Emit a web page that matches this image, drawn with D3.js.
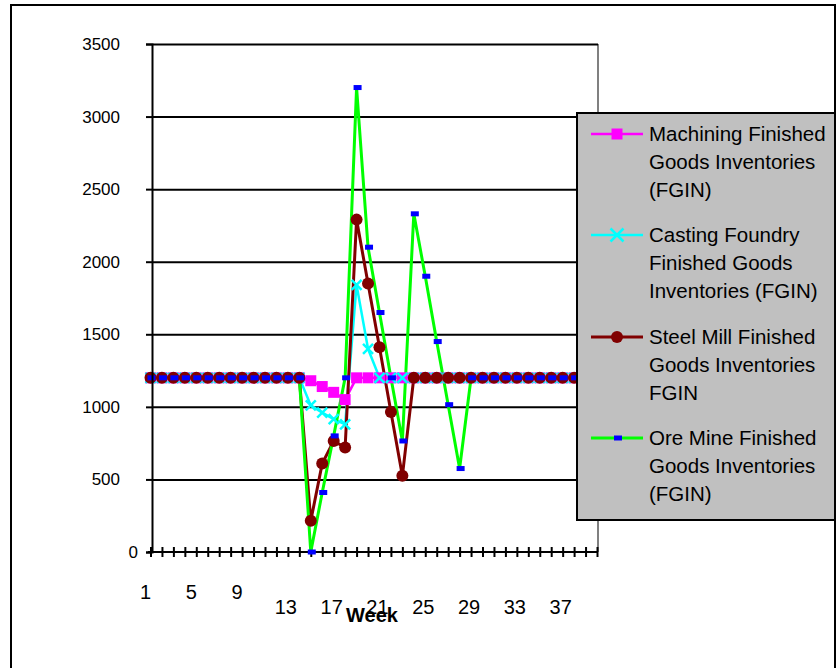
<!DOCTYPE html>
<html>
<head>
<meta charset="utf-8">
<script src="https://cdn.jsdelivr.net/npm/d3@7"></script>
<style>
  html, body { margin: 0; padding: 0; background: #fff; }
  svg { display: block; font-family: "Liberation Sans", Arial, sans-serif; }
</style>
</head>
<body>
<svg id="chart" width="838" height="668"></svg>
<script>
// ---------- DATA ----------
const weeks = [1,2,3,4,5,6,7,8,9,10,11,12,13,14,15,16,17,18,19,20,
               21,22,23,24,25,26,27,28,29,30,31,32,33,34,35,36,37,38,39,40];
const weekLabels = [1,5,9,13,17,21,25,29,33,37];
const yTickValues = [0,500,1000,1500,2000,2500,3000,3500];

const machining = [1200,1200,1200,1200,1200,1200,1200,1200,1200,1200,1200,1200,1200,1200,
                   1180,1140,1100,1050,1200,1200,1200,1200,1200,1200,1200,1200,1200,1200,
                   1200,1200,1200,1200,1200,1200,1200,1200,1200,1200,1200,1200];
const casting   = [1200,1200,1200,1200,1200,1200,1200,1200,1200,1200,1200,1200,1200,1200,
                   1010,960,915,880,1840,1400,1200,1200,1200,1200,1200,1200,1200,1200,
                   1200,1200,1200,1200,1200,1200,1200,1200,1200,1200,1200,1200];
const steel     = [1200,1200,1200,1200,1200,1200,1200,1200,1200,1200,1200,1200,1200,1200,
                   215,610,765,720,2290,1850,1410,965,525,1200,1200,1200,1200,1200,
                   1200,1200,1200,1200,1200,1200,1200,1200,1200,1200,1200,1200];
const oreMine   = [1200,1200,1200,1200,1200,1200,1200,1200,1200,1200,1200,1200,1200,1200,
                   0,410,800,1200,3200,2100,1650,1200,765,2330,1900,1450,1015,575,
                   1200,1200,1200,1200,1200,1200,1200,1200,1200,1200,1200,1200];

const seriesNames = [
  ["Machining Finished", "Goods Inventories", "(FGIN)"],
  ["Casting Foundry", "Finished Goods", "Inventories (FGIN)"],
  ["Steel Mill Finished", "Goods Inventories", "FGIN"],
  ["Ore Mine Finished", "Goods Inventories", "(FGIN)"]
];
const xTitle = "Week";

// ---------- SETUP ----------
const svg = d3.select("#chart");
const plot = { left: 152, right: 598, top: 44, bottom: 552 };

const x = d3.scalePoint().domain(weeks).range([150.5, 597]);
const y = d3.scaleLinear().domain([0, 3500]).range([plot.bottom, plot.top]);

const series = [
  { values: machining, color: "#FF00FF", width: 2.5, marker: "square" },
  { values: casting,   color: "#00FFFF", width: 2.5, marker: "x" },
  { values: steel,     color: "#800000", width: 3,   marker: "circle" },
  { values: oreMine,   color: "#00FF00", width: 3,   marker: "rect" }
];

// outer chart border
svg.append("rect").attr("x", 11).attr("y", 5).attr("width", 824).attr("height", 720)
  .attr("fill", "#fff").attr("stroke", "#000").attr("stroke-width", 2);

// plot area right border (grey)
svg.append("line").attr("x1", plot.right).attr("x2", plot.right)
  .attr("y1", plot.top).attr("y2", plot.bottom)
  .attr("stroke", "#808080").attr("stroke-width", 2);

// gridlines
svg.append("g").attr("transform", `translate(${plot.left},0)`)
  .call(d3.axisLeft(y).tickValues(yTickValues.filter(v => v > 0))
        .tickSize(-(plot.right - plot.left)).tickFormat(""))
  .call(g => g.select(".domain").remove())
  .call(g => g.selectAll("line").attr("stroke", "#000").attr("stroke-width", 2));

// x axis line + crossing ticks
svg.append("line").attr("x1", plot.left - 4).attr("x2", plot.right)
  .attr("y1", plot.bottom).attr("y2", plot.bottom)
  .attr("stroke", "#000").attr("stroke-width", 2);
svg.append("g").attr("transform", `translate(0,${plot.bottom - 5})`)
  .call(d3.axisBottom(x).tickSize(10).tickFormat(""))
  .call(g => g.select(".domain").remove())
  .call(g => g.selectAll("line").attr("stroke", "#000").attr("stroke-width", 2));

// x tick labels (staggered as in the original)
svg.append("g").selectAll("text").data(weekLabels).join("text")
  .attr("x", d => x(d) + (d <= 9 ? -5 : -2))
  .attr("y", d => d <= 9 ? 599 : 614)
  .attr("text-anchor", "middle")
  .attr("font-size", 20)
  .attr("fill", "#000")
  .text(d => d);

// x title
svg.append("text").attr("x", 372).attr("y", 622)
  .attr("text-anchor", "middle").attr("font-size", 20).attr("font-weight", "bold")
  .text(xTitle);

// ---------- SERIES ----------
const lineGen = d3.line().x((d, i) => x(weeks[i])).y(d => y(d));

series.forEach(s => {
  svg.append("path").datum(s.values)
    .attr("d", lineGen)
    .attr("fill", "none")
    .attr("stroke", s.color)
    .attr("stroke-width", s.width)
    .attr("stroke-linejoin", "miter");
});

function drawMarker(g, type, cx, cy, scale) {
  scale = scale || 1;
  if (type === "square") {
    const w = 11 * scale;
    g.append("rect").attr("x", cx - w / 2).attr("y", cy - w / 2)
      .attr("width", w).attr("height", w).attr("fill", "#FF00FF");
  } else if (type === "x") {
    const r = 5 * scale;
    g.append("path")
      .attr("d", `M${cx - r},${cy - r}L${cx + r},${cy + r}M${cx - r},${cy + r}L${cx + r},${cy - r}`)
      .attr("stroke", "#00FFFF").attr("stroke-width", 2.5).attr("fill", "none");
  } else if (type === "circle") {
    g.append("circle").attr("cx", cx).attr("cy", cy).attr("r", 6 * scale)
      .attr("fill", "#800000");
  } else if (type === "rect") {
    g.append("rect").attr("x", cx - 4 * scale + 1).attr("y", cy - 2.5 * scale)
      .attr("width", 8 * scale).attr("height", 5 * scale).attr("fill", "#0000FF");
  }
}

series.forEach(s => {
  const g = svg.append("g");
  s.values.forEach((v, i) => drawMarker(g, s.marker, x(weeks[i]), y(v)));
});

// y axis (drawn over markers)
svg.append("g").attr("transform", `translate(${plot.left},0)`)
  .call(d3.axisLeft(y).tickValues(yTickValues).tickSize(6).tickFormat(""))
  .call(g => g.select(".domain").attr("stroke", "#000").attr("stroke-width", 2))
  .call(g => g.selectAll(".tick line").attr("stroke", "#000").attr("stroke-width", 2));

// y tick labels (the "0" label sits closer to the axis, as in the original)
svg.append("g").selectAll("text").data(yTickValues).join("text")
  .attr("x", d => d === 0 ? 138 : 120)
  .attr("y", d => y(d))
  .attr("dy", "0.35em")
  .attr("text-anchor", "end")
  .attr("font-size", 17)
  .attr("fill", "#000")
  .text(d => d3.format("d")(d));

// ---------- LEGEND ----------
const legend = svg.append("g");
legend.append("rect").attr("x", 577).attr("y", 113).attr("width", 258).attr("height", 407)
  .attr("fill", "#C0C0C0").attr("stroke", "#000").attr("stroke-width", 2);

const legendTop = [141, 242, 344, 445];
series.forEach((s, k) => {
  const ly = legendTop[k] - 7;
  legend.append("line").attr("x1", 591).attr("x2", 643).attr("y1", ly).attr("y2", ly)
    .attr("stroke", s.color).attr("stroke-width", s.width);
  drawMarker(legend, s.marker, 617, ly, s.marker === "x" ? 1.3 : 1);
  seriesNames[k].forEach((t, j) => {
    legend.append("text").attr("x", 649).attr("y", legendTop[k] + j * 28)
      .attr("font-size", 20.5).attr("fill", "#000").text(t);
  });
});
</script>
</body>
</html>
